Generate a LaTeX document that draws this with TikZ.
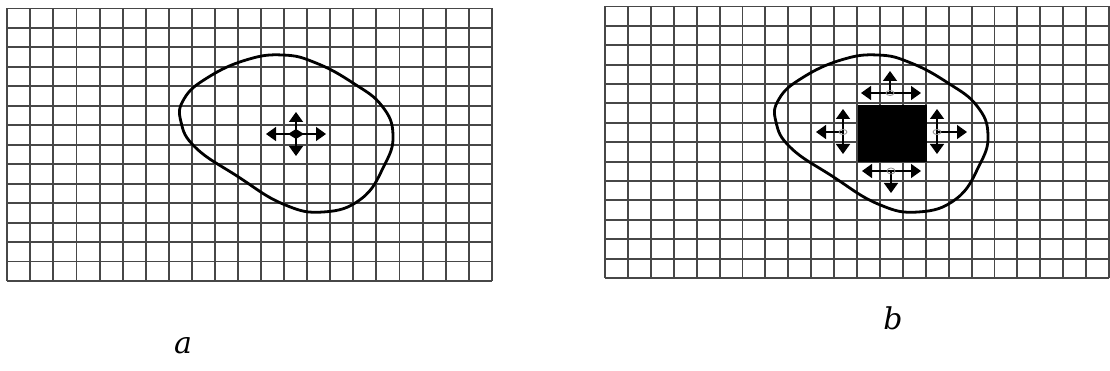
\documentclass[tikz,border=0pt]{standalone}
\usepackage{fontspec}
\setmainfont{DejaVu Serif}
\usetikzlibrary{arrows.meta}
\tikzset{
  gridline/.style={line width=1.9pt, draw=black!72},
  blob/.style={line width=2.8pt, draw=black, line join=round},
  dblarrow/.style={line width=1.5pt, {Triangle[length=10pt,width=14pt]}-{Triangle[length=10pt,width=14pt]}},
  onearrow/.style={line width=1.5pt, -{Triangle[length=10pt,width=14pt]}},
  lbl/.style={font=\fontsize{30}{34}\selectfont\itshape, inner sep=0pt},
  centermark/.style={draw=black!45, line width=0.8pt},
}
\begin{document}
\begin{tikzpicture}[x=1pt,y=-1pt]
\useasboundingbox[fill=white] (0,0) rectangle (1110,371);
% ---------- panel a grid ----------
\foreach \i in {0,...,21} {
  \draw[gridline] ({7.3+\i*23.07},8.5) -- ({7.3+\i*23.07},281);
}
\foreach \j in {0,...,14} {
  \draw[gridline] (7.3,{8.5+\j*19.46}) -- (491.8,{8.5+\j*19.46});
}
% ---------- panel b grid ----------
\foreach \i in {0,...,22} {
  \draw[gridline] ({605+\i*22.91},6.5) -- ({605+\i*22.91},278);
}
\foreach \j in {0,...,14} {
  \draw[gridline] (605,{6.5+\j*19.39}) -- (1109,{6.5+\j*19.39});
}
% ---------- blob a ----------
\draw[blob] plot[smooth cycle, tension=0.75] coordinates {
  (184,99) (181,122) (196,148) (237,176) (283,204) (323,212) (361,199)
  (384,166) (393,135) (382,106) (353,83) (316,63) (283,55) (246,60) (207,78)};
% ---------- blob b ----------
\begin{scope}[shift={(595,0)}]
\draw[blob] plot[smooth cycle, tension=0.75] coordinates {
  (184,99) (181,122) (196,148) (237,176) (283,204) (323,212) (361,199)
  (384,166) (393,135) (382,106) (353,83) (316,63) (283,55) (246,60) (207,78)};
\end{scope}
% ---------- arrows a ----------
\coordinate (ca) at (296,134);
\coordinate (caL) at (266,134);
\coordinate (caR) at (326,134);
\coordinate (caT) at (296,112);
\coordinate (caB) at (296,156);
\draw[dblarrow] (caL) -- (caR);
\draw[dblarrow] (caT) -- (caB);
\fill (ca) ++(-8,0) -- ++(8,-5) -- ++(8,5) -- ++(-8,5) -- cycle;
% ---------- panel b: arrows ----------
% top cluster
\coordinate (tc) at (890,93);
\coordinate (tcL) at (861,93);
\coordinate (tcR) at (921,93);
\coordinate (tcT) at (890,71);
\draw[dblarrow] (tcL) -- (tcR);
\draw[onearrow] (tc) -- (tcT);
\draw[centermark] (tc) ellipse (4pt and 2.5pt);
% bottom cluster
\coordinate (bc) at (891,171);
\coordinate (bcL) at (862,171);
\coordinate (bcR) at (921,171);
\coordinate (bcB) at (891,193);
\draw[dblarrow] (bcL) -- (bcR);
\draw[onearrow] (bc) -- (bcB);
\draw[centermark] (bc) ellipse (4pt and 3pt);
% left cluster
\coordinate (lc) at (843,132);
\coordinate (lcL) at (816,132);
\coordinate (lcT) at (843,109);
\coordinate (lcB) at (843,154);
\draw[onearrow] (lc) -- (lcL);
\draw[dblarrow] (lcT) -- (lcB);
\draw[centermark] (lc) ellipse (4pt and 2.5pt);
% right cluster
\coordinate (rc) at (937,132);
\coordinate (rcR) at (967,132);
\coordinate (rcT) at (937,109);
\coordinate (rcB) at (937,154);
\draw[onearrow] (rc) -- (rcR);
\draw[dblarrow] (rcT) -- (rcB);
\draw[centermark] (rc) ellipse (4pt and 2.5pt);
% black square
\fill[black] (858,105) rectangle (927,162);
% ---------- labels ----------
\node[lbl] (la) at (183,346) {a};
\node[lbl] (lb) at (893,318) {b};
\end{tikzpicture}
\end{document}
